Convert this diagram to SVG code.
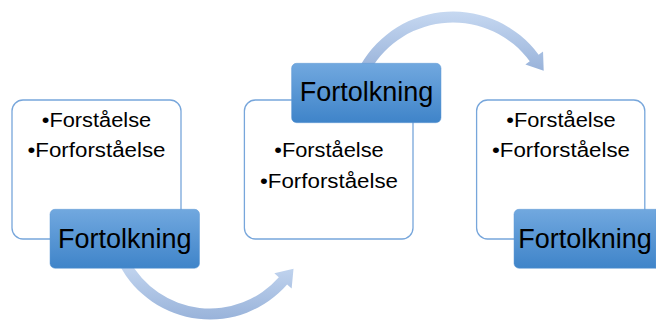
<svg xmlns="http://www.w3.org/2000/svg" width="656" height="320" viewBox="0 0 656 320">
  <defs>
    <linearGradient id="gBlue" x1="0" y1="0" x2="0" y2="1">
      <stop offset="0" stop-color="#71a8df"/>
      <stop offset="1" stop-color="#3f84c9"/>
    </linearGradient>
    <linearGradient id="gArrow" x1="0" y1="0" x2="0" y2="1">
      <stop offset="0" stop-color="#c6d8f1"/>
      <stop offset="1" stop-color="#99b3da"/>
    </linearGradient>
  </defs>
  <style>
    .card { fill: #ffffff; stroke: #77a6db; stroke-width: 1.3; }
    .tag { fill: url(#gBlue); stroke: #5f98d4; stroke-width: 0.5; }
    .arrow { fill: url(#gArrow); }
    .bul { font-family: "Liberation Sans", Arial, sans-serif; font-size: 20px; fill: #000000; text-anchor: middle; }
    .lbl { font-family: "Liberation Sans", Arial, sans-serif; font-size: 27px; fill: #000000; text-anchor: middle; }
  </style>

  <g id="connectors">
    <path class="arrow" d="M119.50,265.12 A102.5,102.5 0 0 0 287.12,284.52 L291.64,288.47 L293.52,268.85 L274.33,273.32 L278.84,277.27 A91.5,91.5 0 0 1 129.21,259.96 Z"/>
    <path class="arrow" d="M360.77,64.75 A106.5,106.5 0 0 1 538.62,54.65 L543.04,51.38 L543.71,70.79 L525.35,64.47 L529.77,61.20 A95.5,95.5 0 0 0 370.30,70.25 Z"/>
  </g>

  <g id="node1">
    <rect class="card" x="12" y="100" width="169" height="139" rx="11"/>
    <text class="bul" x="96.5" y="126.7" textLength="109.5" lengthAdjust="spacingAndGlyphs">•Forståelse</text>
    <text class="bul" x="96.5" y="157.3" textLength="138" lengthAdjust="spacingAndGlyphs">•Forforståelse</text>
    <rect class="tag" x="50" y="209.3" width="149.5" height="59" rx="5"/>
    <text class="lbl" x="124.7" y="248">Fortolkning</text>
  </g>

  <g id="node2">
    <rect class="card" x="244.4" y="100" width="168.6" height="139" rx="11"/>
    <text class="bul" x="329" y="156.7" textLength="109.5" lengthAdjust="spacingAndGlyphs">•Forståelse</text>
    <text class="bul" x="329" y="187.7" textLength="138" lengthAdjust="spacingAndGlyphs">•Forforståelse</text>
    <rect class="tag" x="291.6" y="63.3" width="149.4" height="59.4" rx="5"/>
    <text class="lbl" x="366.5" y="101">Fortolkning</text>
  </g>

  <g id="node3">
    <rect class="card" x="476.6" y="100" width="168.2" height="139" rx="11"/>
    <text class="bul" x="561" y="126.7" textLength="109.5" lengthAdjust="spacingAndGlyphs">•Forståelse</text>
    <text class="bul" x="561" y="157.3" textLength="138" lengthAdjust="spacingAndGlyphs">•Forforståelse</text>
    <path class="tag" d="M519,209.3 H656 V268.3 H519 A5,5 0 0 1 514,263.3 V214.3 A5,5 0 0 1 519,209.3 Z"/>
    <text class="lbl" x="585" y="248">Fortolkning</text>
  </g>
</svg>
